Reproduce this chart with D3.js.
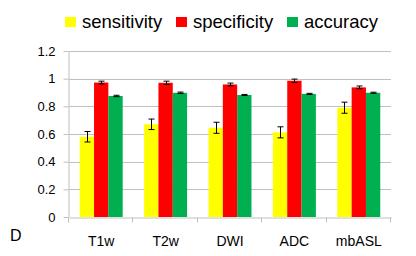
<!DOCTYPE html>
<html>
<head>
<meta charset="utf-8">
<script src="https://cdn.jsdelivr.net/npm/d3@7"></script>
<style>
  body { margin: 0; background: #fff; }
  text { font-family: "Liberation Sans", Arial, sans-serif; fill: #000; }
</style>
</head>
<body>
<script>
const WIDTH = 416;
const HEIGHT = 256;
const MARGIN = { top: 51, right: 25, bottom: 39, left: 69 };

const categories = ["T1w", "T2w", "DWI", "ADC", "mbASL"];
const seriesNames = ["sensitivity", "specificity", "accuracy"];
const seriesColors = ["#ffff00", "#ff0000", "#00b050"];
const sensitivity = [0.58, 0.67, 0.645, 0.612, 0.79];
const sensitivityErr = [0.038, 0.038, 0.04, 0.04, 0.04];
const specificity = [0.972, 0.97, 0.958, 0.985, 0.937];
const specificityErr = [0.01, 0.012, 0.01, 0.012, 0.01];
const accuracy = [0.875, 0.898, 0.882, 0.89, 0.898];
const accuracyErr = [0.005, 0.005, 0.004, 0.004, 0.004];
const yTicks = [0, 0.2, 0.4, 0.6, 0.8, 1, 1.2];

const values = [sensitivity, specificity, accuracy];
const errors = [sensitivityErr, specificityErr, accuracyErr];

const rows = [];
categories.forEach((cat, i) => {
  seriesNames.forEach((s, j) => {
    rows.push({ cat, series: s, idx: j, value: values[j][i], err: errors[j][i] });
  });
});

const svg = d3.select("body").append("svg")
  .attr("width", WIDTH)
  .attr("height", HEIGHT);

const xScale = d3.scaleBand()
  .domain(categories)
  .range([MARGIN.left, WIDTH - MARGIN.right])
  .paddingInner(0.333)
  .paddingOuter(0.1665);

const xSub = d3.scaleBand()
  .domain(seriesNames)
  .range([0, xScale.bandwidth()]);

const yScale = d3.scaleLinear()
  .domain([0, 1.2])
  .range([HEIGHT - MARGIN.bottom, MARGIN.top]);

// gridlines
svg.append("g")
  .selectAll("line")
  .data(yTicks.filter(t => t > 0))
  .join("line")
  .attr("x1", MARGIN.left)
  .attr("x2", WIDTH - MARGIN.right)
  .attr("y1", t => Math.round(yScale(t)) + 0.5)
  .attr("y2", t => Math.round(yScale(t)) + 0.5)
  .attr("stroke", "#c0c0c0")
  .attr("stroke-width", 1);

// y axis
const yAxis = svg.append("g")
  .attr("transform", `translate(${MARGIN.left - 0.5},0)`)
  .call(d3.axisLeft(yScale).tickValues(yTicks).tickSize(5).tickSizeOuter(0)
    .tickFormat(d3.format("~g")));
yAxis.select(".domain").attr("stroke", "#c0c0c0");
yAxis.selectAll(".tick line").attr("stroke", "#c0c0c0");
yAxis.selectAll(".tick text").attr("x", -13).style("font-size", "13px")
  .style("font-family", "'Liberation Sans', Arial, sans-serif");

// bars
svg.append("g")
  .selectAll("rect")
  .data(rows)
  .join("rect")
  .attr("x", d => xScale(d.cat) + xSub(d.series))
  .attr("y", d => yScale(d.value))
  .attr("width", xSub.bandwidth())
  .attr("height", d => yScale(0) - yScale(d.value))
  .attr("fill", d => seriesColors[d.idx]);

// error bars
const eb = svg.append("g").attr("stroke", "#000").attr("stroke-width", 1);
rows.forEach(d => {
  const cx = Math.round(xScale(d.cat) + xSub(d.series) + xSub.bandwidth() / 2) + 0.5;
  const y1 = yScale(d.value + d.err);
  const y2 = yScale(d.value - d.err);
  eb.append("line").attr("x1", cx).attr("x2", cx).attr("y1", y1).attr("y2", y2);
  eb.append("line").attr("x1", cx - 3).attr("x2", cx + 3).attr("y1", y1).attr("y2", y1);
  eb.append("line").attr("x1", cx - 3).attr("x2", cx + 3).attr("y1", y2).attr("y2", y2);
});

// x axis
const step = xScale.step();
const xAxis = svg.append("g")
  .attr("transform", `translate(0,${Math.round(yScale(0)) + 0.5})`)
  .call(d3.axisBottom(xScale).tickSize(0).tickSizeOuter(0));
xAxis.select(".domain").attr("stroke", "#c0c0c0");
xAxis.selectAll(".tick text").attr("dy", 0).attr("y", 28).style("font-size", "14px")
  .style("font-family", "'Liberation Sans', Arial, sans-serif");
xAxis.selectAll(".sep")
  .data(d3.range(categories.length + 1))
  .join("line")
  .attr("class", "sep")
  .attr("x1", i => Math.round(MARGIN.left + i * step) - 0.5)
  .attr("x2", i => Math.round(MARGIN.left + i * step) - 0.5)
  .attr("y1", 0)
  .attr("y2", 5)
  .attr("stroke", "#c0c0c0");

// legend
const legendX = [65, 176, 287];
const legend = svg.append("g");
seriesNames.forEach((s, j) => {
  legend.append("rect")
    .attr("x", legendX[j]).attr("y", 17)
    .attr("width", 11).attr("height", 10)
    .attr("fill", seriesColors[j]);
  legend.append("text")
    .attr("x", legendX[j] + 17).attr("y", 28)
    .style("font-size", "18.5px")
    .text(s);
});

// panel label
svg.append("text")
  .attr("x", 10).attr("y", 241)
  .style("font-size", "16px")
  .text("D");
</script>
</body>
</html>
